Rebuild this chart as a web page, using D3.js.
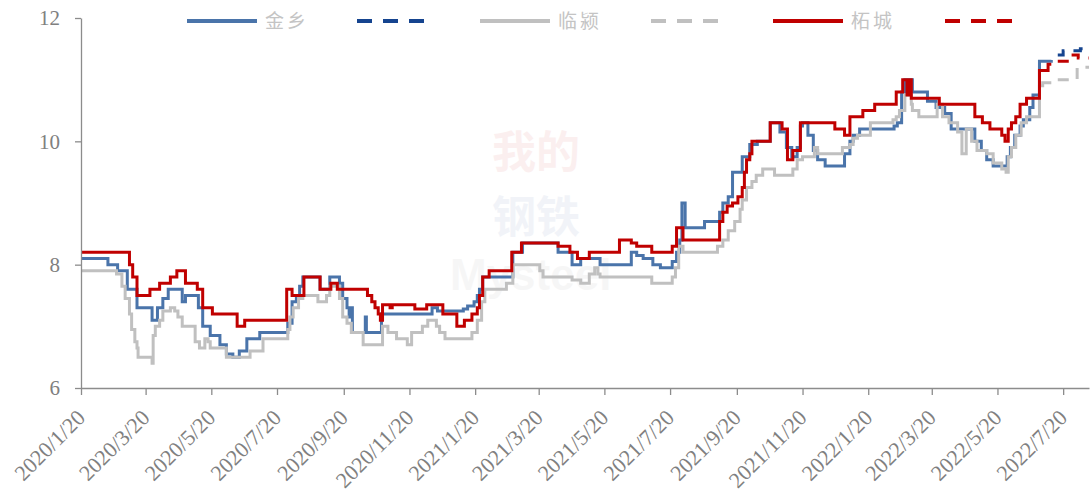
<!DOCTYPE html>
<html>
<head>
<meta charset="utf-8">
<script src="https://cdn.jsdelivr.net/npm/d3@7"></script>
<style>
	body { margin: 0; background: #fff; }
	svg { display: block; }
</style>
</head>
<body>
<main></main>
<script>
// Data (weekly price change points, yuan/kg)

const jinxiang = [
	["2020-01-20", 8.1], ["2020-02-14", 8.0], ["2020-02-23", 7.9], ["2020-03-03", 7.6], ["2020-03-12", 7.3],
	["2020-03-26", 7.1], ["2020-03-31", 7.3], ["2020-04-05", 7.45], ["2020-04-10", 7.6], ["2020-04-23", 7.4],
	["2020-04-26", 7.5], ["2020-05-08", 7.3], ["2020-05-12", 7.0], ["2020-05-19", 6.85], ["2020-05-28", 6.7],
	["2020-06-03", 6.55], ["2020-06-09", 6.5], ["2020-06-15", 6.6], ["2020-06-22", 6.8], ["2020-07-04", 6.9],
	["2020-07-30", 7.05], ["2020-08-03", 7.4], ["2020-08-07", 7.5], ["2020-08-10", 7.65], ["2020-08-13", 7.8],
	["2020-08-29", 7.6], ["2020-09-07", 7.8], ["2020-09-16", 7.7], ["2020-09-19", 7.45], ["2020-09-23", 7.3],
	["2020-09-25", 7.15], ["2020-09-27", 7.3], ["2020-09-28", 6.9], ["2020-10-10", 7.15], ["2020-10-11", 6.9],
	["2020-10-25", 7.2], ["2020-12-11", 7.3], ["2020-12-16", 7.25], ["2021-01-09", 7.28], ["2021-01-13", 7.33],
	["2021-01-19", 7.4], ["2021-01-22", 7.5], ["2021-01-24", 7.6], ["2021-01-27", 7.8], ["2021-02-24", 8.2],
	["2021-03-05", 8.35], ["2021-04-07", 8.2], ["2021-04-20", 8.0], ["2021-04-28", 8.1], ["2021-05-16", 8.0],
	["2021-06-14", 8.2], ["2021-06-19", 8.15], ["2021-06-25", 8.1], ["2021-07-04", 8.0], ["2021-07-11", 7.95],
	["2021-07-22", 8.05], ["2021-07-26", 8.2], ["2021-07-29", 8.4], ["2021-07-31", 9.0], ["2021-08-03", 8.6],
	["2021-08-21", 8.7], ["2021-09-04", 8.85], ["2021-09-07", 9.0], ["2021-09-12", 9.1], ["2021-09-16", 9.5],
	["2021-09-25", 9.75], ["2021-10-02", 9.95], ["2021-10-09", 10.0], ["2021-10-21", 10.3], ["2021-10-30", 10.15],
	["2021-11-05", 9.9], ["2021-11-10", 9.75], ["2021-11-15", 9.9], ["2021-11-18", 10.25], ["2021-11-20", 10.3],
	["2021-11-25", 10.1], ["2021-11-30", 9.85], ["2021-12-04", 9.7], ["2021-12-11", 9.6], ["2021-12-29", 9.8],
	["2022-01-03", 10.0], ["2022-01-06", 10.1], ["2022-01-12", 10.2], ["2022-02-13", 10.25], ["2022-02-16", 10.3],
	["2022-02-20", 10.8], ["2022-02-23", 11.0], ["2022-03-02", 10.8], ["2022-03-16", 10.65], ["2022-03-24", 10.55],
	["2022-04-01", 10.45], ["2022-04-07", 10.2], ["2022-04-29", 10.0], ["2022-05-05", 9.85], ["2022-05-10", 9.7],
	["2022-05-16", 9.6], ["2022-05-29", 9.75], ["2022-06-01", 9.9], ["2022-06-05", 10.1], ["2022-06-10", 10.25],
	["2022-06-13", 10.35], ["2022-06-19", 10.55], ["2022-06-22", 10.75], ["2022-06-28", 11.3], ["2022-07-09", 11.32],
];
const jinxiangForecast = [["2022-07-15", 11.4], ["2022-07-20", 11.47], ["2022-08-05", 11.5], ["2022-08-13", 11.5]];

const linying = [
	["2020-01-20", 7.9], ["2020-02-22", 7.85], ["2020-02-27", 7.65], ["2020-03-01", 7.45], ["2020-03-05", 7.2],
	["2020-03-07", 6.95], ["2020-03-10", 6.75], ["2020-03-12", 6.65], ["2020-03-13", 6.5], ["2020-03-26", 6.4],
	["2020-03-27", 6.85], ["2020-03-29", 7.0], ["2020-04-02", 7.1], ["2020-04-05", 7.25], ["2020-04-12", 7.3],
	["2020-04-16", 7.25], ["2020-04-19", 7.15], ["2020-04-23", 7.0], ["2020-05-05", 6.75], ["2020-05-09", 6.65],
	["2020-05-14", 6.8], ["2020-05-17", 6.75], ["2020-05-19", 6.65], ["2020-06-03", 6.5], ["2020-06-25", 6.6],
	["2020-07-07", 6.8], ["2020-07-30", 6.95], ["2020-08-01", 7.15], ["2020-08-04", 7.3], ["2020-08-09", 7.45],
	["2020-08-13", 7.5], ["2020-08-27", 7.4], ["2020-09-04", 7.5], ["2020-09-07", 7.65], ["2020-09-16", 7.45],
	["2020-09-19", 7.15], ["2020-09-23", 7.05], ["2020-09-27", 6.9], ["2020-10-08", 6.7], ["2020-10-26", 7.0],
	["2020-10-31", 6.9], ["2020-11-08", 6.8], ["2020-11-18", 6.7], ["2020-11-22", 6.9], ["2020-12-02", 7.0],
	["2020-12-07", 7.1], ["2020-12-15", 7.0], ["2020-12-18", 6.9], ["2020-12-23", 6.8], ["2021-01-17", 6.9],
	["2021-01-22", 7.1], ["2021-01-26", 7.4], ["2021-01-29", 7.6], ["2021-02-18", 7.7], ["2021-02-24", 8.0],
	["2021-03-21", 7.9], ["2021-03-24", 7.8], ["2021-04-20", 7.75], ["2021-04-28", 7.7], ["2021-05-06", 7.85],
	["2021-05-11", 7.95], ["2021-05-14", 7.85], ["2021-05-16", 7.8], ["2021-07-03", 7.7], ["2021-07-22", 7.8],
	["2021-07-25", 7.95], ["2021-07-28", 8.3], ["2021-08-01", 8.2], ["2021-09-02", 8.3], ["2021-09-07", 8.4],
	["2021-09-12", 8.55], ["2021-09-18", 8.7], ["2021-09-23", 8.9], ["2021-09-25", 9.05], ["2021-09-29", 9.25],
	["2021-10-04", 9.35], ["2021-10-08", 9.45], ["2021-10-14", 9.55], ["2021-10-25", 9.45], ["2021-11-11", 9.55],
	["2021-11-15", 9.7], ["2021-11-20", 9.75], ["2021-12-01", 9.9], ["2021-12-04", 9.8], ["2021-12-27", 9.9],
	["2022-01-03", 9.95], ["2022-01-06", 10.05], ["2022-01-10", 10.1], ["2022-01-22", 10.3], ["2022-02-12", 10.35],
	["2022-02-15", 10.4], ["2022-02-18", 10.5], ["2022-02-23", 10.75], ["2022-03-01", 10.6], ["2022-03-02", 10.5],
	["2022-03-08", 10.4], ["2022-03-25", 10.6], ["2022-03-30", 10.4], ["2022-04-05", 10.3], ["2022-04-13", 10.15],
	["2022-04-17", 9.8], ["2022-04-21", 10.2], ["2022-04-26", 10.0], ["2022-05-01", 9.85], ["2022-05-10", 9.8],
	["2022-05-16", 9.65], ["2022-05-24", 9.55], ["2022-05-28", 9.5], ["2022-05-30", 9.75], ["2022-06-02", 9.9],
	["2022-06-06", 10.1], ["2022-06-11", 10.3], ["2022-06-16", 10.4], ["2022-06-28", 10.9], ["2022-07-01", 10.95],
	["2022-07-09", 10.95],
];
const linyingForecast = [["2022-07-15", 11.0], ["2022-08-02", 11.2], ["2022-08-13", 11.2]];

const zhecheng = [
	["2020-01-20", 8.2], ["2020-03-05", 8.0], ["2020-03-08", 7.8], ["2020-03-12", 7.5], ["2020-03-24", 7.6],
	["2020-04-02", 7.7], ["2020-04-12", 7.8], ["2020-04-18", 7.9], ["2020-04-26", 7.7], ["2020-05-07", 7.6],
	["2020-05-12", 7.3], ["2020-05-21", 7.2], ["2020-06-13", 7.0], ["2020-06-20", 7.1], ["2020-07-29", 7.6],
	["2020-08-03", 7.5], ["2020-08-14", 7.8], ["2020-08-29", 7.6], ["2020-09-08", 7.7], ["2020-09-14", 7.6],
	["2020-10-12", 7.5], ["2020-10-16", 7.4], ["2020-10-19", 7.3], ["2020-10-22", 7.2], ["2020-10-24", 7.1],
	["2020-10-26", 7.35], ["2020-11-02", 7.3], ["2020-11-04", 7.35], ["2020-11-25", 7.28], ["2020-12-06", 7.35],
	["2020-12-21", 7.2], ["2021-01-03", 7.0], ["2021-01-10", 7.1], ["2021-01-17", 7.2], ["2021-01-22", 7.3],
	["2021-01-24", 7.5], ["2021-01-27", 7.8], ["2021-02-02", 7.9], ["2021-02-23", 8.2], ["2021-03-04", 8.35],
	["2021-04-07", 8.3], ["2021-04-18", 8.2], ["2021-04-25", 8.1], ["2021-05-06", 8.2], ["2021-06-03", 8.4],
	["2021-06-14", 8.35], ["2021-06-19", 8.3], ["2021-07-03", 8.2], ["2021-07-22", 8.3], ["2021-07-26", 8.6],
	["2021-08-01", 8.4], ["2021-09-04", 8.7], ["2021-09-07", 8.85], ["2021-09-11", 8.95], ["2021-09-16", 9.0],
	["2021-09-21", 9.1], ["2021-09-25", 9.25], ["2021-09-27", 9.5], ["2021-09-29", 9.7], ["2021-10-02", 9.8],
	["2021-10-04", 10.0], ["2021-10-21", 10.3], ["2021-11-01", 10.2], ["2021-11-06", 9.7], ["2021-11-11", 9.85],
	["2021-11-18", 10.3], ["2021-12-20", 10.2], ["2021-12-29", 10.1], ["2022-01-03", 10.4], ["2022-01-15", 10.5],
	["2022-01-26", 10.6], ["2022-02-15", 10.8], ["2022-02-21", 11.0], ["2022-02-25", 10.75], ["2022-02-27", 11.0],
	["2022-03-01", 10.7], ["2022-03-27", 10.6], ["2022-04-29", 10.4], ["2022-05-06", 10.3], ["2022-05-13", 10.2],
	["2022-05-24", 10.1], ["2022-05-27", 10.0], ["2022-05-30", 10.2], ["2022-06-02", 10.3], ["2022-06-06", 10.4],
	["2022-06-10", 10.6], ["2022-06-16", 10.7], ["2022-06-28", 11.15], ["2022-07-06", 11.25], ["2022-07-09", 11.25],
];
const zhechengForecast = [["2022-07-15", 11.3], ["2022-07-26", 11.4], ["2022-08-03", 11.35], ["2022-08-13", 11.35]];

const seriesNames = ["金乡", "临颍", "柘城"];
const xTickLabels = ["2020/1/20", "2020/3/20", "2020/5/20", "2020/7/20", "2020/9/20", "2020/11/20",
	"2021/1/20", "2021/3/20", "2021/5/20", "2021/7/20", "2021/9/20", "2021/11/20",
	"2022/1/20", "2022/3/20", "2022/5/20", "2022/7/20"];
const yTicks = [6, 8, 10, 12];
const xDomain = ["2020-01-20", "2022-08-13"];

// Dimensions

const dimensions = {
	width: 1091,
	height: 495,
	margin: { top: 18, right: 2, bottom: 107, left: 81 },
};
dimensions.boundedWidth = dimensions.width - dimensions.margin.left - dimensions.margin.right;
dimensions.boundedHeight = dimensions.height - dimensions.margin.top - dimensions.margin.bottom;

const parseDate = d3.timeParse("%Y-%m-%d");
const parseTick = d3.timeParse("%Y/%m/%d");
const toPoints = arr => arr.map(([d, v]) => ({ date: parseDate(d), value: v }));

const series = [
	{ data: toPoints(jinxiang), color: "#4a74aa", dash: null },
	{ data: toPoints(jinxiangForecast), color: "#15448f", dash: "11,9" },
	{ data: toPoints(linying), color: "#c0c0c0", dash: null },
	{ data: toPoints(linyingForecast), color: "#c0c0c0", dash: "11,9" },
	{ data: toPoints(zhecheng), color: "#c00000", dash: null },
	{ data: toPoints(zhechengForecast), color: "#c00000", dash: "11,9" },
];

// Canvas

const svg = d3.select("main")
	.append("svg")
		.attr("width", dimensions.width)
		.attr("height", dimensions.height);

// Watermark (very faint logo behind the plot)

const wm = svg.append("g").attr("opacity", 0.06).attr("font-weight", "bold");
wm.append("text").attr("x", 492).attr("y", 168).attr("fill", "#c00000")
	.attr("font-family", "Noto Sans CJK SC").attr("font-size", 44).text("我的");
wm.append("text").attr("x", 492).attr("y", 233).attr("fill", "#1f4e8f")
	.attr("font-family", "Noto Sans CJK SC").attr("font-size", 44).text("钢铁");
wm.append("text").attr("x", 450).attr("y", 290).attr("fill", "#777")
	.attr("font-family", "Liberation Sans, Arial").attr("font-size", 44).text("Mysteel");

const graph = svg.append("g")
	.attr("transform", `translate(${dimensions.margin.left},${dimensions.margin.top})`);

// Scales

const xScale = d3.scaleTime()
	.domain(xDomain.map(parseDate))
	.range([0, dimensions.boundedWidth]);

const yScale = d3.scaleLinear()
	.domain([6, 12])
	.range([dimensions.boundedHeight, 0]);

// Lines

const lineGenerator = d3.line()
	.x(d => xScale(d.date))
	.y(d => yScale(d.value))
	.curve(d3.curveStepAfter);

graph.selectAll("path.series")
	.data(series)
	.enter()
	.append("path")
	.attr("class", "series")
	.attr("d", d => lineGenerator(d.data))
	.attr("fill", "none")
	.attr("stroke", d => d.color)
	.attr("stroke-width", 3)
	.attr("stroke-dasharray", d => d.dash);

// Axes

const axisColor = "#8c8c8c";
const labelColor = "#808080";

const yAxis = graph.append("g")
	.call(d3.axisLeft(yScale)
		.tickValues(yTicks)
		.tickFormat(d3.format("d"))
		.tickSize(6)
		.tickSizeOuter(0)
		.tickPadding(15));

const xAxis = graph.append("g")
	.attr("transform", `translate(0,${dimensions.boundedHeight})`)
	.call(d3.axisBottom(xScale)
		.tickValues(xTickLabels.map(parseTick))
		.tickFormat(d3.timeFormat("%Y/%-m/%-d"))
		.tickSize(7)
		.tickSizeOuter(0));

[xAxis, yAxis].forEach(ax => {
	ax.select(".domain").attr("stroke", axisColor).attr("stroke-width", 1.3);
	ax.selectAll(".tick line").attr("stroke", axisColor).attr("stroke-width", 1.3);
	ax.selectAll(".tick text")
		.attr("fill", labelColor)
		.attr("font-family", "Liberation Serif, Times New Roman, serif")
		.attr("font-size", 21);
});

xAxis.selectAll(".tick text")
	.attr("x", 0)
	.attr("y", 0)
	.attr("dy", 0)
	.attr("font-size", 22)
	.attr("text-anchor", "end")
	.attr("transform", "translate(5,31) rotate(-45)");

// Legend

const legendItems = [
	{ name: seriesNames[0], color: series[0].color, dash: null, width: 170 },
	{ name: "", color: series[1].color, dash: "15,11", width: 123 },
	{ name: seriesNames[1], color: series[2].color, dash: null, width: 171 },
	{ name: "", color: series[3].color, dash: "15,11", width: 122 },
	{ name: seriesNames[2], color: series[4].color, dash: null, width: 172 },
	{ name: "", color: series[5].color, dash: "15,11", width: 0 },
];

const legend = svg.append("g").attr("transform", "translate(187,21)");
let legendX = 0;
legendItems.forEach(item => {
	const g = legend.append("g").attr("transform", `translate(${legendX},0)`);
	g.append("line")
		.attr("x1", 0).attr("x2", 70)
		.attr("stroke", item.color)
		.attr("stroke-width", 4)
		.attr("stroke-dasharray", item.dash);
	if (item.name) {
		g.append("text")
			.attr("x", 78)
			.attr("y", 7)
			.attr("fill", "#c4c4c4")
			.attr("font-family", "Noto Sans CJK SC")
			.attr("font-size", 19)
			.attr("letter-spacing", 3)
			.text(item.name);
	}
	legendX += item.width;
});
</script>
</body>
</html>
